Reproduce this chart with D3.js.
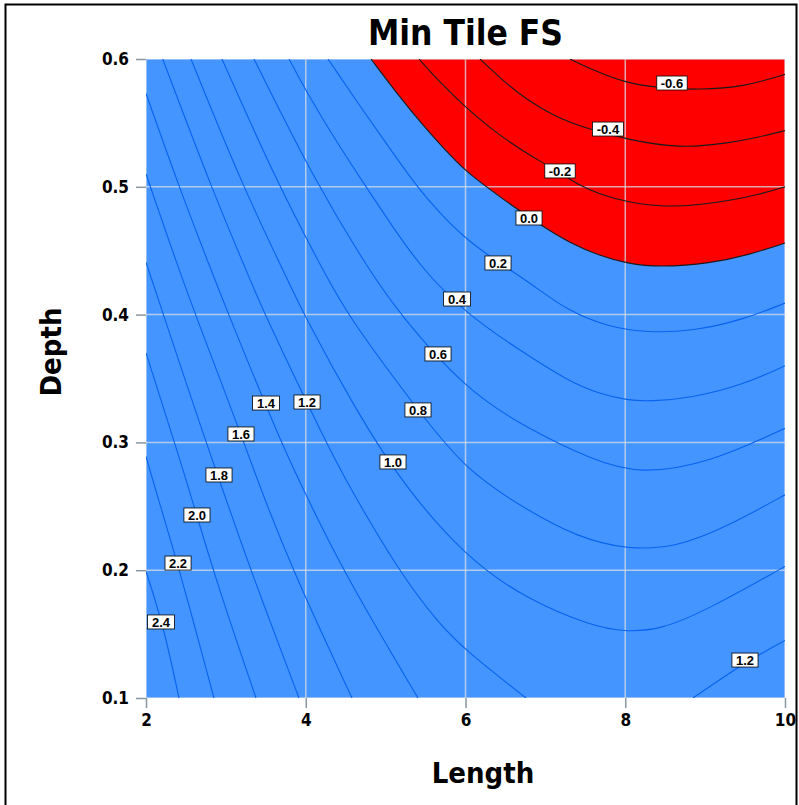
<!DOCTYPE html>
<html>
<head>
<meta charset="utf-8">
<script src="https://cdn.jsdelivr.net/npm/d3@7"></script>
<style>
body { margin: 0; background: #fff; }
svg { display: block; }
text { font-family: "Liberation Sans Narrow", "Arial Narrow", "DejaVu Sans Condensed", sans-serif; font-weight: bold; }
</style>
</head>
<body>
<script>
// axis ticks
var xTicks = [2, 4, 6, 8, 10];
var yTicks = [0.1, 0.2, 0.3, 0.4, 0.5, 0.6];

// contour lines, [Length, Depth]
var cM06 = [[7.308,0.600],[7.646,0.590],[7.972,0.582],[8.435,0.577],[8.936,0.576],[9.474,0.578],[10,0.588]];
var cM04 = [[6.182,0.600],[6.469,0.583],[6.770,0.568],[7.121,0.555],[7.496,0.546],[8.022,0.537],[8.685,0.530],[9.274,0.534],[9.687,0.539],[10,0.544]];
var cM02 = [[5.418,0.600],[5.706,0.580],[6.006,0.562],[6.307,0.546],[6.620,0.532],[6.933,0.520],[7.183,0.511],[7.396,0.502],[7.684,0.494],[8.022,0.488],[8.523,0.484],[8.936,0.486],[9.274,0.489],[9.687,0.494],[10,0.500]];
var c00 = [[4.817,0.600],[5.142,0.573],[5.468,0.548],[5.743,0.529],[6.006,0.512],[6.307,0.498],[6.632,0.483],[6.970,0.469],[7.308,0.456],[7.684,0.446],[8.022,0.440],[8.435,0.437],[9.061,0.440],[9.562,0.447],[10,0.456]];
var c02 = [[4.279,0.600],[4.679,0.563],[5.030,0.532],[5.380,0.501],[5.681,0.479],[6.006,0.459],[6.407,0.441],[6.808,0.425],[7.271,0.403],[7.809,0.390],[8.272,0.386],[8.848,0.387],[9.474,0.396],[10,0.409]];
var c04 = [[3.790,0.600],[4.003,0.575],[4.366,0.537],[4.754,0.500],[5.117,0.466],[5.468,0.435],[6.006,0.401],[6.632,0.374],[7.308,0.347],[7.684,0.338],[8.022,0.333],[8.310,0.332],[8.848,0.335],[9.474,0.345],[10,0.360]];
var c06 = [[3.352,0.600],[4.153,0.500],[4.792,0.435],[5.167,0.401],[6.006,0.341],[6.770,0.311],[7.596,0.286],[8.185,0.275],[9.061,0.284],[10,0.311]];
var c08 = [[2.951,0.600],[3.665,0.500],[4.216,0.435],[4.504,0.401],[5.405,0.325],[6.006,0.278],[6.770,0.247],[7.396,0.226],[8.022,0.216],[8.648,0.218],[9.274,0.234],[10,0.259]];
var c10 = [[2.563,0.600],[3.214,0.500],[3.715,0.435],[3.966,0.401],[4.629,0.325],[5.217,0.267],[6.006,0.210],[6.770,0.177],[7.596,0.156],[7.972,0.152],[8.435,0.153],[9.061,0.170],[10,0.203]];
var c12a = [[2.209,0.600],[2.814,0.500],[3.252,0.435],[3.477,0.401],[4.254,0.300],[4.529,0.267],[5.167,0.199],[5.668,0.158],[6.006,0.137],[6.757,0.100]];
var c12b = [[8.848,0.100],[9.474,0.127],[10,0.145]];
var c14 = [[2,0.573],[2.413,0.500],[2.814,0.435],[3.027,0.401],[3.690,0.300],[3.941,0.267],[4.466,0.199],[5.405,0.100]];
var c16 = [[2,0.510],[2.413,0.435],[2.613,0.401],[3.227,0.300],[3.415,0.267],[3.840,0.199],[4.579,0.100]];
var c18 = [[2,0.441],[2.213,0.401],[2.751,0.300],[2.939,0.267],[3.315,0.199],[3.915,0.100]];
var c20 = [[2,0.370],[2.526,0.267],[2.839,0.199],[3.377,0.100]];
var c22 = [[2,0.289],[2.100,0.267],[2.413,0.202],[2.851,0.100]];
var c24 = [[2,0.199],[2.213,0.158],[2.413,0.100]];

var contourLevels = [-0.6, -0.4, -0.2, 0.0, 0.2, 0.4, 0.6, 0.8, 1.0, 1.2, 1.2, 1.4, 1.6, 1.8, 2.0, 2.2, 2.4];
var contourLines = [cM06, cM04, cM02, c00, c02, c04, c06, c08, c10, c12a, c12b, c14, c16, c18, c20, c22, c24];

// contour labels
var labelText = ["-0.6","-0.4","-0.2","0.0","0.2","0.4","0.6","0.8","1.0","1.2","1.4","1.6","1.8","2.0","2.2","2.4","1.2"];
var labelPos = [[8.585,0.5812],[7.784,0.5452],[7.183,0.5124],[6.795,0.4756],[6.407,0.4404],[5.894,0.4122],[5.656,0.3692],
                [5.405,0.3254],[5.092,0.2847],[4.016,0.3316],[3.502,0.3308],[3.189,0.3066],[2.914,0.2745],[2.638,0.2432],
                [2.401,0.2056],[2.188,0.1595],[9.499,0.1297]];

var width = 799,
    height = 805;
var margin = {top: 59, right: 14, bottom: 107, left: 146};

var x = d3.scaleLinear().domain([2, 10]).range([margin.left, width - margin.right]);
var y = d3.scaleLinear().domain([0.1, 0.6]).range([height - margin.bottom, margin.top]);

var svg = d3.select("body").append("svg")
    .attr("width", width)
    .attr("height", height);

// outer frame
svg.append("rect")
    .attr("x", 5.5).attr("y", 4.5)
    .attr("width", 791).attr("height", 810)
    .attr("fill", "none")
    .attr("stroke", "#000")
    .attr("stroke-width", 2);

svg.append("clipPath").attr("id", "plotClip")
  .append("rect")
    .attr("x", x(2)).attr("y", y(0.6))
    .attr("width", x(10) - x(2)).attr("height", y(0.1) - y(0.6));

var plot = svg.append("g").attr("clip-path", "url(#plotClip)");

// positive region
plot.append("rect")
    .attr("x", x(2)).attr("y", y(0.6))
    .attr("width", x(10) - x(2)).attr("height", y(0.1) - y(0.6))
    .attr("fill", "#4495ff");

var line = d3.line()
    .x(function(d){ return x(d[0]); })
    .y(function(d){ return y(d[1]); })
    .curve(d3.curveBasis);

// negative region (FS < 0), closed along the top-right corner
plot.append("path")
    .attr("d", line(c00) + "L" + x(10) + "," + y(0.6) + "Z")
    .attr("fill", "#ff0000");

// grid
plot.selectAll(".vgrid").data(xTicks).enter().append("line")
    .attr("class", "vgrid")
    .attr("x1", function(d){ return x(d); }).attr("x2", function(d){ return x(d); })
    .attr("y1", y(0.6)).attr("y2", y(0.1))
    .attr("stroke", "rgba(215,222,230,0.75)")
    .attr("stroke-width", 1.5);

plot.selectAll(".hgrid").data(yTicks).enter().append("line")
    .attr("class", "hgrid")
    .attr("x1", x(2)).attr("x2", x(10))
    .attr("y1", function(d){ return y(d); }).attr("y2", function(d){ return y(d); })
    .attr("stroke", "rgba(215,222,230,0.75)")
    .attr("stroke-width", 1.5);

// contour lines
plot.selectAll(".contour").data(contourLines).enter().append("path")
    .attr("class", "contour")
    .attr("d", line)
    .attr("fill", "none")
    .attr("stroke", function(d, i){ return contourLevels[i] <= 0 ? "#1a1a1a" : "#0862f0"; })
    .attr("stroke-width", 1.1);

// contour labels
var labels = svg.selectAll(".clabel").data(labelText).enter().append("g")
    .attr("class", "clabel")
    .attr("transform", function(d, i){ return "translate(" + x(labelPos[i][0]) + "," + y(labelPos[i][1]) + ")"; });

labels.append("rect");
labels.append("text")
    .attr("text-anchor", "middle")
    .attr("dy", "0.36em")
    .style("font-family", "'Liberation Sans', Arial, sans-serif")
    .style("font-size", "13px")
    .text(function(d){ return d; });

labels.each(function(){
    var g = d3.select(this);
    var bb = g.select("text").node().getBBox();
    g.select("rect")
        .attr("x", -bb.width / 2 - 4)
        .attr("y", -7)
        .attr("width", bb.width + 8)
        .attr("height", 14)
        .attr("fill", "#fff")
        .attr("stroke", "#000")
        .attr("stroke-width", 0.8);
});

// axes
var xAxis = svg.append("g")
    .attr("transform", "translate(0," + y(0.1) + ")")
    .call(d3.axisBottom(x).tickValues(xTicks).tickSize(10).tickPadding(6).tickFormat(d3.format("d")));

var yAxis = svg.append("g")
    .attr("transform", "translate(" + x(2) + ",0)")
    .call(d3.axisLeft(y).tickValues(yTicks).tickSize(10).tickPadding(7).tickFormat(d3.format(".1f")));

[xAxis, yAxis].forEach(function(a){
    a.select(".domain").remove();
    a.selectAll(".tick line").attr("stroke", "#8a96a0").attr("stroke-width", 1.5);
    a.selectAll(".tick text")
        .attr("fill", "#000")
        .style("font-size", "17px")
        .style("font-family", null);
});

// titles
svg.append("text")
    .attr("x", (x(2) + x(10)) / 2)
    .attr("y", 45)
    .attr("text-anchor", "middle")
    .style("font-size", "35px")
    .text("Min Tile FS");

svg.append("text")
    .attr("x", 483)
    .attr("y", 783)
    .attr("text-anchor", "middle")
    .style("font-size", "29px")
    .text("Length");

svg.append("text")
    .attr("transform", "translate(61,352) rotate(-90)")
    .attr("text-anchor", "middle")
    .style("font-size", "29px")
    .text("Depth");
</script>
</body>
</html>
